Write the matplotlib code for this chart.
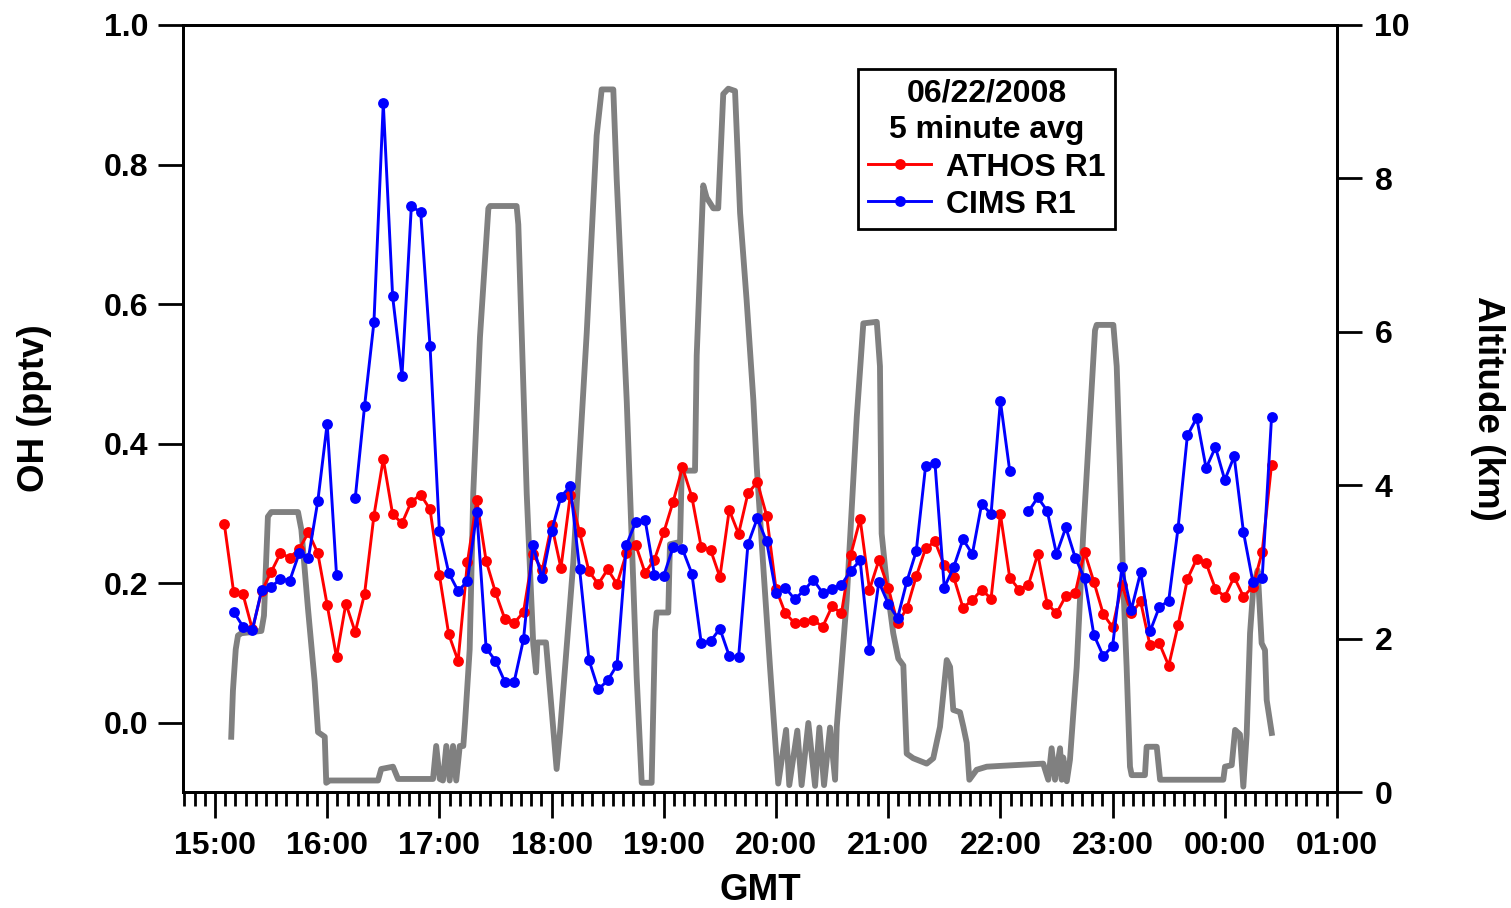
import numpy as np
import matplotlib
matplotlib.use('Agg')
import matplotlib.pyplot as plt
from matplotlib.ticker import FixedLocator, MultipleLocator

plt.rcParams['font.family'] = ['Liberation Sans', 'DejaVu Sans']
plt.rcParams['font.weight'] = 'bold'

# OH, 5 minute averages (pptv), first average at 15:05 GMT
athos_oh = [0.285, 0.187, 0.184, 0.134, 0.189, 0.216, 0.243, 0.237, 0.249, 0.273,
            0.243, 0.169, 0.094, 0.171, 0.130, 0.185, 0.297, 0.378, 0.299, 0.286,
            0.317, 0.327, 0.306, 0.212, 0.127, 0.089, 0.230, 0.319, 0.232, 0.187,
            0.149, 0.143, 0.159, 0.242, 0.219, 0.284, 0.222, 0.326, 0.273, 0.217,
            0.199, 0.220, 0.199, 0.243, 0.255, 0.215, 0.234, 0.273, 0.317, 0.366,
            0.324, 0.252, 0.248, 0.209, 0.305, 0.271, 0.329, 0.345, 0.297, 0.192,
            0.157, 0.143, 0.145, 0.147, 0.138, 0.167, 0.157, 0.241, 0.292, 0.191,
            0.233, 0.194, 0.143, 0.164, 0.210, 0.250, 0.260, 0.226, 0.209, 0.165,
            0.176, 0.191, 0.178, 0.299, 0.208, 0.191, 0.198, 0.242, 0.171, 0.157,
            0.182, 0.186, 0.245, 0.202, 0.156, 0.137, 0.198, 0.157, 0.174, 0.111,
            0.114, 0.082, 0.140, 0.206, 0.235, 0.229, 0.192, 0.181, 0.209, 0.181,
            0.195, 0.245, 0.370]
nan = float('nan')
cims_oh = [nan, 0.159, 0.138, 0.133, 0.191, 0.195, 0.206, 0.204, 0.243, 0.237,
           0.318, 0.429, 0.212, nan, 0.322, 0.454, 0.574, 0.888, 0.611, 0.497,
           0.740, 0.732, 0.540, 0.275, 0.215, 0.189, 0.203, 0.302, 0.107, 0.089,
           0.059, 0.059, 0.120, 0.255, 0.207, 0.275, 0.324, 0.339, 0.220, 0.090,
           0.048, 0.061, 0.083, 0.255, 0.288, 0.291, 0.212, 0.211, 0.252, 0.249,
           0.214, 0.115, 0.117, 0.135, 0.096, 0.094, 0.256, 0.293, 0.260, 0.186,
           0.194, 0.177, 0.190, 0.205, 0.186, 0.192, 0.198, 0.218, 0.233, 0.104,
           0.202, 0.171, 0.150, 0.203, 0.246, 0.368, 0.373, 0.194, 0.223, 0.263,
           0.242, 0.314, 0.299, 0.461, 0.361, nan, 0.303, 0.323, 0.304, 0.242,
           0.280, 0.237, 0.207, 0.126, 0.096, 0.110, 0.223, 0.162, 0.216, 0.131,
           0.166, 0.175, 0.279, 0.412, 0.437, 0.365, 0.395, 0.348, 0.382, 0.273,
           0.202, 0.208, 0.438]
first_avg_min = 5    # minutes after 15:00
avg_step_min = 5

# flight altitude, minutes after 15:00 GMT -> km
alt_min = [8.7, 9.6, 11.1, 12.3, 14.1, 24.8, 26.2, 28.3, 30.1, 44.4,
           46.2, 49.7, 53.3, 55.1, 58.7, 59.5, 61.3, 87.2, 88.9, 95.2,
           97.9, 116.6, 118.3, 120.2, 121.9, 123.7, 125.5, 127.3, 129.0, 130.9,
           132.8, 133.7, 136.2, 138.1, 141.7, 146.2, 147.1, 161.3, 162.2, 166.7,
           170.2, 171.7, 172.4, 177.0, 182.7, 184.5, 191.6, 198.8, 204.1, 206.8,
           213.0, 214.8, 220.2, 225.5, 228.2, 233.5, 235.3, 236.2, 242.4, 243.3,
           248.7, 249.6, 256.7, 257.6, 261.1, 262.9, 266.5, 269.1, 271.8, 274.5,
           278.1, 280.8, 284.3, 287.9, 289.7, 293.2, 296.8, 301.2, 305.4, 307.1,
           311.4, 313.7, 317.3, 320.9, 323.2, 325.7, 328.9, 331.6, 332.5, 337.8,
           343.2, 346.7, 353.9, 355.6, 356.5, 359.2, 362.7, 365.4, 368.1, 369.9,
           373.4, 380.6, 384.1, 387.7, 391.3, 393.1, 394.8, 398.4, 400.2, 402.0,
           403.4, 407.3, 412.7, 419.8, 442.9, 445.6, 447.4, 449.2, 451.9, 452.8,
           453.6, 455.5, 457.2, 460.8, 464.3, 467.9, 470.6, 471.5, 480.4, 482.2,
           483.9, 485.7, 487.5, 489.3, 490.2, 497.3, 498.2, 503.6, 505.4, 539.2,
           540.1, 543.7, 545.5, 548.1, 549.9, 551.7, 553.5, 555.3, 557.6, 559.7,
           561.5, 562.4, 565.1]
alt_km = [0.72, 1.32, 1.86, 2.04, 2.07, 2.10, 2.30, 3.59, 3.65, 3.65,
          3.42, 2.40, 1.44, 0.78, 0.72, 0.12, 0.15, 0.15, 0.30, 0.33,
          0.17, 0.17, 0.60, 0.17, 0.15, 0.60, 0.15, 0.60, 0.15, 0.60,
          0.60, 0.90, 1.86, 3.89, 5.93, 7.61, 7.64, 7.64, 7.40, 3.89,
          1.92, 1.56, 1.95, 1.95, 0.30, 0.78, 2.99, 5.99, 8.56, 9.16,
          9.16, 8.00, 5.09, 1.50, 0.12, 0.12, 2.10, 2.34, 2.34, 3.23,
          3.26, 4.19, 4.19, 5.69, 7.91, 7.75, 7.61, 7.61, 9.10, 9.17,
          9.14, 7.55, 6.41, 5.11, 4.24, 2.94, 1.63, 0.11, 0.81, 0.09,
          0.80, 0.09, 0.90, 0.08, 0.84, 0.09, 0.84, 0.16, 0.85, 2.50,
          4.89, 6.11, 6.13, 5.55, 3.37, 2.72, 2.07, 1.74, 1.65, 0.50,
          0.44, 0.37, 0.44, 0.85, 1.72, 1.63, 1.07, 1.04, 0.85, 0.64,
          0.16, 0.29, 0.33, 0.34, 0.37, 0.16, 0.57, 0.16, 0.57, 0.16,
          0.45, 0.14, 0.42, 1.63, 3.37, 4.89, 6.02, 6.09, 6.09, 5.55,
          4.24, 2.72, 1.63, 0.33, 0.22, 0.22, 0.59, 0.59, 0.16, 0.16,
          0.33, 0.35, 0.81, 0.75, 0.07, 0.75, 2.07, 2.68, 2.89, 1.94,
          1.85, 1.20, 0.77]

hour_ticks = [0, 60, 120, 180, 240, 300, 360, 420, 480, 540, 600]
hour_labels = ['15:00', '16:00', '17:00', '18:00', '19:00', '20:00',
               '21:00', '22:00', '23:00', '00:00', '01:00']
oh_ticks = [0.0, 0.2, 0.4, 0.6, 0.8, 1.0]
alt_ticks = [0, 2, 4, 6, 8, 10]


def main():
    fig = plt.figure(figsize=(15.11, 9.08), dpi=100)
    ax = fig.add_axes([183 / 1511, 1 - 792 / 908, 1154 / 1511, 767 / 908])
    ax2 = ax.twinx()
    # OH traces on top of the altitude trace
    ax.set_zorder(ax2.get_zorder() + 1)
    ax.patch.set_visible(False)

    ax2.plot(alt_min, alt_km, color='#808080', lw=4.2)

    t = first_avg_min + avg_step_min * np.arange(len(athos_oh))
    ax.plot(t, athos_oh, color='#ff0000', lw=2.1, marker='o', ms=7.8, mec='none',
            label='ATHOS R1')
    ax.plot(t, cims_oh, color='#0000ff', lw=2.1, marker='o', ms=7.8, mec='none',
            label='CIMS R1')

    ax.set_xlim(-17.1, 600)
    ax.set_ylim(-0.099, 1.0)
    ax2.set_ylim(0, 10)

    ax.xaxis.set_major_locator(FixedLocator(hour_ticks))
    ax.set_xticklabels(hour_labels)
    ax.xaxis.set_minor_locator(MultipleLocator(60 / 11))
    ax.yaxis.set_major_locator(FixedLocator(oh_ticks))
    ax.set_yticklabels(['%.1f' % v for v in oh_ticks])
    ax2.yaxis.set_major_locator(FixedLocator(alt_ticks))
    ax2.set_yticklabels([str(v) for v in alt_ticks])

    ax.tick_params(axis='x', which='major', direction='out', length=19, width=2,
                   labelsize=23, pad=9)
    ax.tick_params(axis='x', which='minor', direction='out', length=10, width=2)
    ax.tick_params(axis='y', direction='out', length=18, width=2, labelsize=23, pad=7)
    ax2.tick_params(axis='y', direction='out', length=18, width=2, labelsize=23, pad=9)
    for a in (ax, ax2):
        for s in a.spines.values():
            s.set_linewidth(2)

    ax.set_xlabel('GMT', fontsize=26.5, fontweight='bold', va='center')
    ax.xaxis.set_label_coords(0.5, (792 - 890) / 767)
    ax.set_ylabel('OH (pptv)', fontsize=26.5, fontweight='bold', va='center')
    ax.yaxis.set_label_coords((35 - 183) / 1154, 0.5)
    ax2.set_ylabel('Altitude (km)', fontsize=26.5, fontweight='bold',
                   rotation=-90, va='center')
    ax2.yaxis.set_label_coords((1487 - 183) / 1154, 0.5)

    leg = ax.legend(title='06/22/2008\n5 minute avg', loc='upper left',
                    bbox_to_anchor=(858 / 1511, 1 - 69 / 908),
                    bbox_transform=fig.transFigure, borderaxespad=0,
                    fontsize=23, title_fontsize=23, fancybox=False,
                    framealpha=1, edgecolor='black', handlelength=2.0,
                    handletextpad=0.45, labelspacing=0.22, borderpad=0.3,
                    markerscale=1.0)
    leg.get_frame().set_linewidth(2)
    title = leg.get_title()
    title.set_fontweight('bold')
    title.set_multialignment('center')
    title.set_linespacing(1.3)

    fig.savefig('out.png', dpi=100)


if __name__ == '__main__':
    main()
